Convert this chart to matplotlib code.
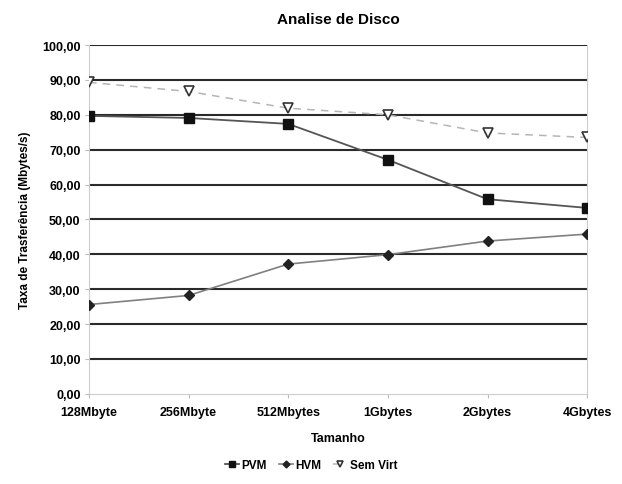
import matplotlib.pyplot as plt
import numpy as np

plt.rcParams['font.family'] = ['Liberation Sans', 'DejaVu Sans']
plt.rcParams['font.weight'] = 'bold'

tamanhos = ['128Mbyte', '256Mbyte', '512Mbytes', '1Gbytes', '2Gbytes', '4Gbytes']
pvm = [79.7, 79.1, 77.4, 67.1, 55.8, 53.3]
hvm = [25.6, 28.2, 37.2, 39.9, 43.8, 45.8]
sem_virt = [89.3, 86.7, 81.9, 80.0, 74.8, 73.5]

fig = plt.figure(figsize=(6.22, 4.85), dpi=100)
ax = fig.add_axes([0.143, 0.186, 0.801, 0.719])

x = np.arange(len(tamanhos))

# grade horizontal escura, estilo Excel
for v in range(10, 101, 10):
    ax.axhline(v, color='#2a2a2a', lw=1.5, zorder=1)

ax.plot(x, pvm, color='#555555', lw=1.3, marker='s', ms=6.5,
        mfc='#111111', mec='#111111', label='PVM', zorder=3)
ax.plot(x, hvm, color='#808080', lw=1.2, marker='D', ms=5,
        mfc='#222222', mec='#222222', label='HVM', zorder=3)
ax.plot(x, sem_virt, color='#b5b5b5', lw=1.1, ls=(0, (5, 4)), marker='v', ms=7,
        mfc='white', mec='#333333', mew=1.2, label='Sem Virt', zorder=3)

ax.set_xlim(0, 5)
ax.set_ylim(0, 100)
ax.set_xticks(x)
ax.set_xticklabels(tamanhos, fontsize=9, fontweight='bold')
ax.set_yticks(range(0, 101, 10))
ax.set_yticklabels(['%d,00' % v for v in range(0, 101, 10)], fontsize=9, fontweight='bold')
ax.tick_params(axis='both', length=3, color='#bbbbbb', pad=3)
ax.tick_params(axis='x', pad=6)

ax.spines['top'].set_visible(False)
for s in ['left', 'right', 'bottom']:
    ax.spines[s].set_color('#cccccc')
    ax.spines[s].set_linewidth(0.8)

ax.set_title('Analise de Disco', fontsize=11, fontweight='bold', pad=16)
ax.set_xlabel('Tamanho', fontsize=9, fontweight='bold', labelpad=10)
ax.set_ylabel('Taxa de Trasferência (Mbytes/s)', fontsize=8.5, fontweight='bold', labelpad=8)

fig.legend(loc='lower center', bbox_to_anchor=(0.5, 0.005), ncol=3, frameon=False,
           fontsize=8.5, handlelength=1.2, handletextpad=0.2, columnspacing=1.0,
           markerscale=0.7)

fig.savefig('out.png', dpi=100)
